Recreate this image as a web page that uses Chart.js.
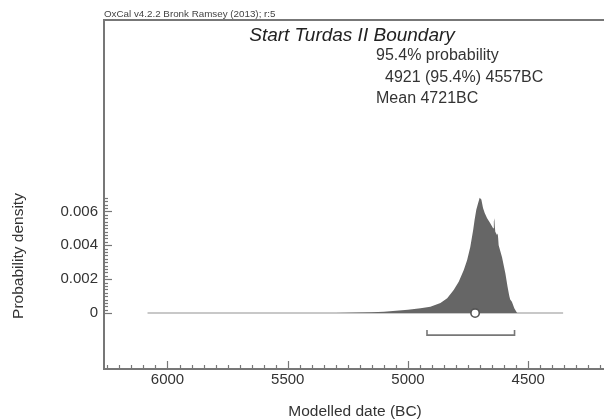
<!DOCTYPE html>
<html><head><meta charset="utf-8">
<script src="https://cdn.jsdelivr.net/npm/chart.js@4.4.1/dist/chart.umd.min.js"></script>
<style>html,body{margin:0;padding:0;background:#fff}canvas{display:block}</style>
</head><body>
<canvas id="c" width="604" height="420"></canvas>
<script>
// ---- data ----
const distYears = [5400, 5300, 5200, 5150, 5100, 5050, 5000,
  4948, 4907, 4865, 4837, 4810, 4789, 4768, 4754, 4741, 4729,
  4723, 4716, 4710, 4702, 4695, 4688, 4681, 4671, 4658, 4646,
  4643, 4641, 4639, 4637, 4630, 4627, 4625, 4623, 4609, 4595,
  4586, 4580, 4578, 4575, 4568, 4558, 4547, 4545];
const distDensity = [0, 0.00001, 0.00003, 0.00005, 0.00008, 0.00013, 0.0002,
  0.00028, 0.00037, 0.0006, 0.00087, 0.00136, 0.00185, 0.00254, 0.00313, 0.0039, 0.0049,
  0.0055, 0.0061, 0.0064, 0.0068, 0.0067, 0.0062, 0.0059, 0.0056, 0.0053, 0.0050,
  0.0054, 0.0056, 0.0051, 0.0048, 0.0046, 0.0047, 0.0044, 0.0040, 0.0033, 0.00234,
  0.00155, 0.0011, 0.00096, 0.0008, 0.00067, 0.00028, 0.00002, 0];
const baselineYears = [6083, 4355];
const meanYear = 4721;
const rangeYears = [4921, 4557];
const xTickLabels = [6000, 5500, 5000, 4500];
const yTickLabels = [0, 0.002, 0.004, 0.006];
const headerText = 'OxCal v4.2.2 Bronk Ramsey (2013); r:5';
const titleText = 'Start Turdas II Boundary';
const infoLines = ['95.4% probability', '4921 (95.4%) 4557BC', 'Mean 4721BC'];
const xTitle = 'Modelled date (BC)';
const yTitle = 'Probability density';

// ---- layout / style ----
const FONT = '"Liberation Sans", Arial, Helvetica, sans-serif';
const RANGE_LEVEL = -0.0013, RANGE_CAP = -0.00100;
const X_MIN = 4185, X_MAX = 6264, Y_MIN = -0.0033, Y_MAX = 0.01729;

const distData = distYears.map((yr, i) => ({x: yr, y: distDensity[i]}));
const baseData = baselineYears.map(yr => ({x: yr, y: 0}));
const rangeData = [
  {x: rangeYears[0], y: RANGE_CAP}, {x: rangeYears[0], y: RANGE_LEVEL},
  {x: rangeYears[1], y: RANGE_LEVEL}, {x: rangeYears[1], y: RANGE_CAP}];
const meanData = [{x: meanYear, y: 0}];

const decor = {
  id: 'decor',
  beforeDraw(chart) {
    const ctx = chart.ctx;
    ctx.save(); ctx.fillStyle = '#fff'; ctx.fillRect(0, 0, chart.width, chart.height); ctx.restore();
  },
  afterDraw(chart) {
    const {ctx, chartArea: a, scales: {x, y}} = chart;
    ctx.save();
    const line = (x1, y1, x2, y2) => { ctx.beginPath(); ctx.moveTo(x1, y1); ctx.lineTo(x2, y2); ctx.stroke(); };
    ctx.strokeStyle = '#777';
    ctx.lineWidth = 2;
    line(a.left - 1, a.top, a.right, a.top);
    ctx.lineWidth = 1.2;
    for (let v = 6250; v >= 4200; v -= 50) {
      const px = Math.round(x.getPixelForValue(v)) + 0.5;
      const len = (v % 500 === 0) ? 8 : 4;
      line(px, a.bottom, px, a.bottom - len);
    }
    for (let i = 0; i <= 34; i++) {
      const py = Math.round(y.getPixelForValue(i * 0.0002)) + 0.5;
      const len = (i % 10 === 0) ? 8 : 4;
      line(a.left, py, a.left + len, py);
    }
    ctx.textBaseline = 'alphabetic';
    ctx.textAlign = 'left';
    ctx.font = '9.8px ' + FONT;
    ctx.fillStyle = '#444';
    ctx.fillText(headerText, 104, 17);
    ctx.fillStyle = '#222';
    ctx.textAlign = 'center';
    ctx.font = 'italic 19px ' + FONT;
    ctx.fillText(titleText, 352, 41);
    ctx.textAlign = 'left';
    ctx.font = '16px ' + FONT;
    ctx.fillStyle = '#333';
    ctx.fillText(infoLines[0], 376, 59.5);
    ctx.fillText(infoLines[1], 385, 81.5);
    ctx.fillText(infoLines[2], 376, 103);
    ctx.textAlign = 'center';
    ctx.font = '15.5px ' + FONT;
    ctx.fillText(xTitle, 355, 416);
    ctx.save();
    ctx.translate(23, 256);
    ctx.rotate(-Math.PI / 2);
    ctx.fillText(yTitle, 0, 0);
    ctx.restore();
    ctx.restore();
  }
};

new Chart(document.getElementById('c'), {
  type: 'line',
  data: {
    datasets: [
      {data: meanData, showLine: false, pointRadius: 4.2, pointBackgroundColor: '#fff',
       pointBorderColor: '#555', pointBorderWidth: 1.6, order: 0},
      {data: rangeData, borderColor: '#777', borderWidth: 1.6, pointRadius: 0, fill: false, order: 1},
      {data: distData, borderColor: '#666', borderWidth: 0, backgroundColor: '#666',
       fill: 'origin', pointRadius: 0, tension: 0, order: 2},
      {data: baseData, borderColor: '#c8c8c8', borderWidth: 2, pointRadius: 0, fill: false, order: 3}
    ]
  },
  options: {
    responsive: false, animation: false,
    layout: {autoPadding: false, padding: {top: 20, left: 0, right: 0, bottom: 0}},
    plugins: {legend: {display: false}, tooltip: {enabled: false}, title: {display: false}},
    scales: {
      x: {
        type: 'linear', reverse: true, min: X_MIN, max: X_MAX,
        afterBuildTicks: s => { s.ticks = xTickLabels.map(v => ({value: v})); },
        afterFit: s => { s.height = 51; s.paddingLeft = 0; s.paddingRight = 0; },
        grid: {display: false, drawTicks: false},
        border: {display: true, color: '#777', width: 2},
        ticks: {padding: 2, color: '#333', font: {family: FONT, size: 15}, maxRotation: 0,
                autoSkip: false, callback: v => String(v)}
      },
      y: {
        type: 'linear', min: Y_MIN, max: Y_MAX,
        afterBuildTicks: s => { s.ticks = yTickLabels.map(v => ({value: v})); },
        afterFit: s => { s.width = 104; s.paddingTop = 0; s.paddingBottom = 0; },
        grid: {display: false, drawTicks: false},
        border: {display: true, color: '#777', width: 2},
        ticks: {padding: 6, color: '#333', font: {family: FONT, size: 15}, autoSkip: false,
                callback: v => (v === 0 ? '0' : v.toFixed(3))}
      }
    }
  },
  plugins: [decor]
});
</script>
</body></html>
